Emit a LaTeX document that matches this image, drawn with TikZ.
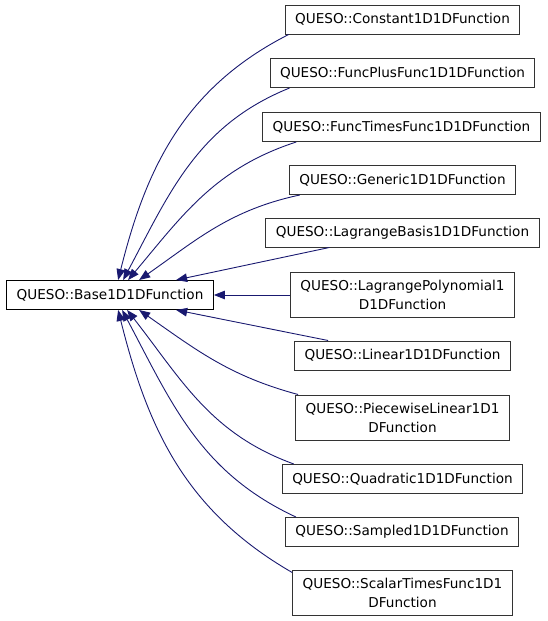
\documentclass[tikz,border=0pt]{standalone}
\usepackage{fontspec}
\setmainfont{DejaVu Sans}
\usetikzlibrary{arrows.meta}
\definecolor{edgeblue}{RGB}{25,25,112}

\begin{document}
\begin{tikzpicture}[x=1pt,y=1pt,
	cls/.style={draw=black!80, fill=white, line width=1pt, inner xsep=10pt, inner ysep=0pt,
		minimum height=29pt, font=\fontsize{13.6}{19}\selectfont},
	clstwo/.style={cls, align=center, minimum height=45pt},
	inh/.style={draw=edgeblue, line width=0.9pt, -{Triangle[length=11pt,width=8.5pt]}}]
	\useasboundingbox (0,0) rectangle (547,-621);
	% base class
	\node [cls, draw=black] (base) at (110,-295) {QUESO::Base1D1DFunction};
	% derived classes
	\node [cls] (const) at (402.5,-19.5) {QUESO::Constant1D1DFunction};
	\node [cls] (fplus) at (402.5,-73) {QUESO::FuncPlusFunc1D1DFunction};
	\node [cls] (ftimes) at (401.5,-127) {QUESO::FuncTimesFunc1D1DFunction};
	\node [cls] (generic) at (402.5,-180) {QUESO::Generic1D1DFunction};
	\node [cls] (lbasis) at (402.5,-232.5) {QUESO::LagrangeBasis1D1DFunction};
	\node [clstwo] (lpoly) at (402.5,-295) {QUESO::LagrangePolynomial1\\D1DFunction};
	\node [cls] (linear) at (402.5,-355.5) {QUESO::Linear1D1DFunction};
	\node [clstwo] (pwlin) at (402.5,-417.5) {QUESO::PiecewiseLinear1D1\\DFunction};
	\node [cls] (quad) at (402.5,-479) {QUESO::Quadratic1D1DFunction};
	\node [cls] (sampled) at (402,-532) {QUESO::Sampled1D1DFunction};
	\node [clstwo] (stimes) at (402.5,-592.5) {QUESO::ScalarTimesFunc1D1\\DFunction};
	% inheritance edges
	\draw [inh] ([xshift=4pt]const.south west) to[out=207,in=76] ([xshift=112pt]base.north west);
	\draw [inh] ([xshift=20pt]fplus.south west) to[out=202,in=62] ([xshift=117pt]base.north west);
	\draw [inh] ([xshift=34pt]ftimes.south west) to[out=198,in=50] ([xshift=122pt]base.north west);
	\draw [inh] ([xshift=11pt]generic.south west) to[out=192,in=35] ([xshift=133pt]base.north west);
	\draw [inh] ([xshift=64pt]lbasis.south west) -- ([xshift=170pt]base.north west);
	\draw [inh] (lpoly.west) -- (base.east);
	\draw [inh] ([xshift=34pt]linear.north west) -- ([xshift=170pt]base.south west);
	\draw [inh] ([xshift=3pt]pwlin.north west) to[out=165,in=-35] ([xshift=133pt]base.south west);
	\draw [inh] ([xshift=12pt]quad.north west) to[out=160,in=-52] ([xshift=121pt]base.south west);
	\draw [inh] ([xshift=11pt]sampled.north west) to[out=155,in=-62] ([xshift=116pt]base.south west);
	\draw [inh] ([yshift=-3pt]stimes.north west) to[out=150,in=-76] ([xshift=112pt]base.south west);
\end{tikzpicture}
\end{document}
